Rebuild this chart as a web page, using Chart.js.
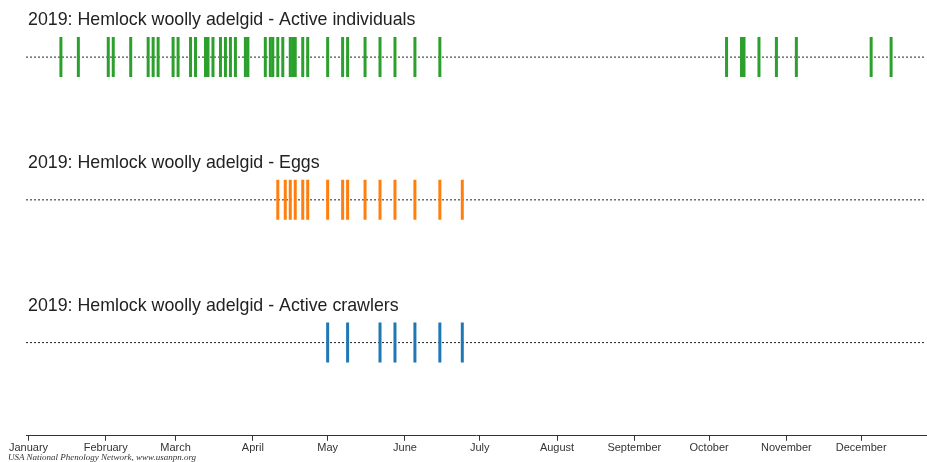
<!DOCTYPE html>
<html>
<head>
<meta charset="utf-8">
<script src="https://cdn.jsdelivr.net/npm/chart.js@4/dist/chart.umd.min.js"></script>
<style>
  html, body { margin: 0; padding: 0; background: #fff; }
  #wrap { position: relative; width: 927px; height: 462px; }
  #credit {
    position: absolute; left: 8px; top: 452px;
    font: italic 9px "Liberation Serif", "DejaVu Serif", serif; color: #333;
  }
</style>
</head>
<body>
<div id="wrap">
  <canvas id="chart" width="927" height="462"></canvas>
  <div id="credit">USA National Phenology Network, www.usanpn.org</div>
</div>
<script>
// observation days, counted from Jan 1 2019 (0 = Jan 1)
const activeIndividuals = [13, 20, 32, 34, 41, 48, 50, 52, 58, 60, 65, 67, 71, 72, 74, 77, 79, 81, 83,
    87, 88, 95, 97, 98, 100, 102, 105, 106, 107, 110, 112, 120, 126, 128, 135, 141, 147, 155, 165,
    280, 286, 287, 293, 300, 308, 338, 346];
const eggs = [100, 103, 105, 107, 110, 112, 120, 126, 128, 135, 141, 147, 155, 165, 174];
const activeCrawlers = [120, 128, 141, 147, 155, 165, 174];

const rowTitles = [
    '2019: Hemlock woolly adelgid - Active individuals',
    '2019: Hemlock woolly adelgid - Eggs',
    '2019: Hemlock woolly adelgid - Active crawlers'
];
const rowValues = [3, 2, 1]; // top to bottom
const rowColours = ['#2ca02c', '#ff7f0e', '#1f77b4'];

const monthStarts = [0, 31, 59, 90, 120, 151, 181, 212, 243, 273, 304, 334];
const monthNames = ['January', 'February', 'March', 'April', 'May', 'June', 'July',
    'August', 'September', 'October', 'November', 'December'];

const series = [activeIndividuals, eggs, activeCrawlers];
const X_MIN = -1, X_MAX = 360;

const datasets = [];
series.forEach((days, i) => {
    // dotted baseline for each row
    datasets.push({
        type: 'line',
        data: [{ x: X_MIN, y: rowValues[i] }, { x: X_MAX, y: rowValues[i] }],
        borderColor: '#222',
        borderWidth: 1,
        borderDash: [2, 2],
        pointRadius: 0,
        order: 2
    });
    // vertical tick for every observation
    datasets.push({
        type: 'scatter',
        data: days.map(d => ({ x: d, y: rowValues[i] })),
        pointStyle: 'line',
        rotation: 90,
        radius: 20,
        hoverRadius: 20,
        borderColor: rowColours[i],
        borderWidth: 3,
        order: 1
    });
});

// row titles above each strip
const titlePlugin = {
    id: 'rowTitles',
    afterDraw(chart) {
        const ctx = chart.ctx;
        const y = chart.scales.y;
        ctx.save();
        ctx.font = '17.8px "Liberation Sans", Arial, sans-serif';
        ctx.fillStyle = '#222';
        ctx.textBaseline = 'alphabetic';
        rowTitles.forEach((t, i) => {
            ctx.fillText(t, 28, y.getPixelForValue(rowValues[i]) - 32);
        });
        ctx.restore();
    }
};

new Chart(document.getElementById('chart').getContext('2d'), {
    data: { datasets: datasets },
    options: {
        responsive: false,
        animation: false,
        events: [],
        layout: { autoPadding: false, padding: { left: 26, right: 1, top: 0, bottom: 6 } },
        plugins: { legend: { display: false }, tooltip: { enabled: false } },
        scales: {
            x: {
                type: 'linear',
                min: X_MIN,
                max: X_MAX,
                afterBuildTicks: axis => { axis.ticks = monthStarts.map(v => ({ value: v })); },
                afterFit: axis => {
                    // no extra room for the edge labels
                    axis.paddingLeft = 0; axis.paddingRight = 0;
                },
                ticks: {
                    autoSkip: false,
                    maxRotation: 0,
                    padding: 1,
                    color: '#333',
                    font: { family: '"Liberation Sans", Arial, sans-serif', size: 11 },
                    callback: v => monthNames[monthStarts.indexOf(v)]
                },
                grid: { drawOnChartArea: false, tickLength: 5, color: '#333' },
                border: { color: '#333', width: 1 }
            },
            y: {
                display: false,
                min: 0.347,
                max: 3.4
            }
        }
    },
    plugins: [titlePlugin]
});
</script>
</body>
</html>
